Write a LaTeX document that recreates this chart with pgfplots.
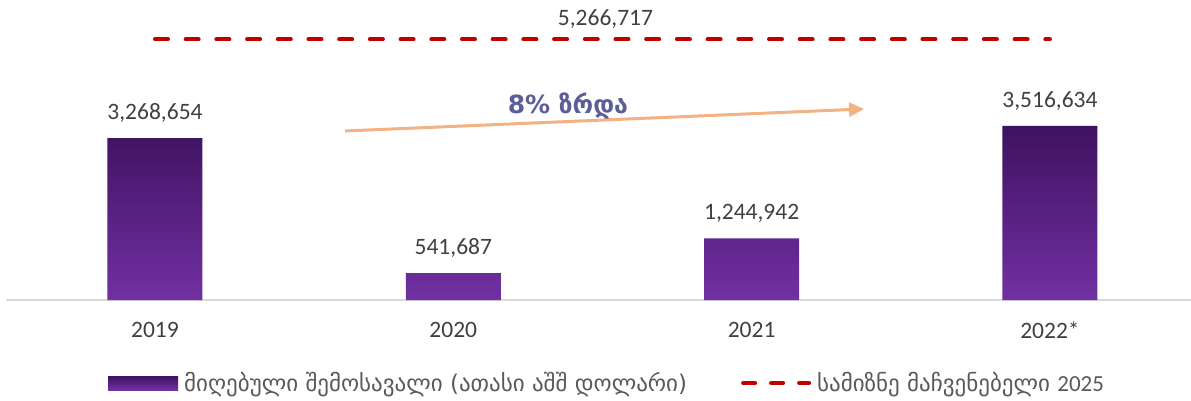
\documentclass[border=0pt]{standalone}
\usepackage{fontspec}
\setmainfont{Carlito}
\newfontfamily\geo{DejaVu Sans}
\usepackage{pgfplots}
\pgfplotsset{compat=1.18}
\usepackage{pgfplotstable}
\usetikzlibrary{arrows.meta}
\definecolor{bartop}{HTML}{3E1260}
\definecolor{barbot}{HTML}{7230A2}
\definecolor{targetred}{HTML}{C00000}
\definecolor{txt}{HTML}{404040}
\definecolor{legtxt}{HTML}{595959}
\definecolor{arrowc}{HTML}{F4B183}
\definecolor{growth}{HTML}{5B5E99}
\definecolor{axisgray}{HTML}{D9D9D9}

\pgfplotstableread{
x y label
0 3268654 3,268,654
1 541687 541,687
2 1244942 1,244,942
3 3516634 3,516,634
}\revenue

\pgfplotstableread{
x y
0 5266717
3 5266717
}\target

\begin{document}
\begin{tikzpicture}
\path[use as bounding box] (0pt,0pt) rectangle (1191pt,400pt);
\begin{axis}[
  at={(6pt,100pt)}, anchor=south west,
  scale only axis, width=1185pt, height=300pt,
  xmin=-0.4994, xmax=3.4727, ymin=0, ymax=6.06e6,
  clip=false,
  axis y line=none,
  axis x line*=bottom,
  x axis line style={draw=axisgray, line width=1.5pt},
  xtick={0,1,2,3},
  xticklabels={2019,2020,2021,2022*},
  major tick length=0pt,
  xticklabel style={font=\fontsize{23.5}{27}\selectfont, text=txt, anchor=center, yshift=-30pt},
  legend columns=2,
  legend style={at={(axis description cs:0.0861,-0.2767)}, anchor=west, draw=none, fill=none,
    inner sep=0pt, font=\geo\fontsize{23}{27}\selectfont, text=legtxt,
    /tikz/every odd column/.append style={column sep=4pt},
    /tikz/every even column/.append style={column sep=52pt}},
  legend cell align=left,
]
\addplot[ybar, bar width=95pt, draw=none, top color=bartop, bottom color=barbot,
  point meta=explicit symbolic,
  nodes near coords,
  every node near coord/.append style={font=\fontsize{23.5}{27}\selectfont, text=txt, anchor=center, yshift=25pt},
  legend image code/.code={\fill[top color=bartop,bottom color=barbot] (0pt,-7pt) rectangle (70pt,7pt);}
  ] table[x=x,y=y,meta=label] {\revenue};
\addlegendentry{მიღებული შემოსავალი (ათასი აშშ დოლარი)}
\addplot[color=targetred, line width=4pt, line cap=round, dash pattern=on 13pt off 17.7pt,
  legend image code/.code={\draw[color=targetred, line width=4pt, line cap=round, dash pattern=on 12pt off 16pt] (2pt,0pt) -- (68pt,0pt);}
  ] table[x=x,y=y] {\target};
\addlegendentry{სამიზნე მაჩვენებელი {\rmfamily 2025}}
\node[font=\fontsize{23.5}{27}\selectfont, text=txt, anchor=center, yshift=20pt] at (axis cs:1.51,5266717) {5,266,717};
\draw[-{Triangle[length=15pt,width=14pt]}, color=arrowc, line width=3pt] (axis cs:0.637,3.414e6) -- (axis cs:2.377,3.859e6);
\node[font=\geo\bfseries\fontsize{25}{30}\selectfont, text=growth] at (axis cs:1.384,3.93e6) {8\% ზრდა};
\end{axis}
\end{tikzpicture}
\end{document}
